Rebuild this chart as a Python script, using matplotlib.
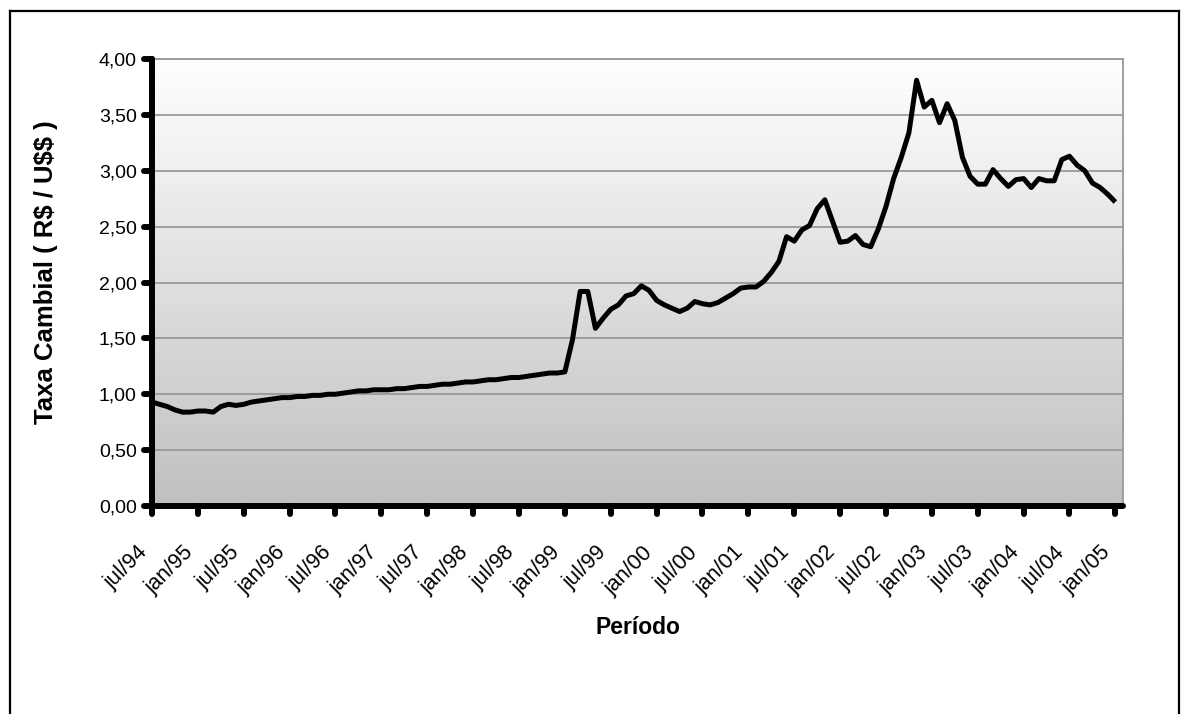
import numpy as np
import matplotlib
matplotlib.use("Agg")
import matplotlib.pyplot as plt
from matplotlib.colors import LinearSegmentedColormap
from matplotlib.lines import Line2D
from matplotlib.ticker import FuncFormatter

plt.rcParams['font.family'] = ['Liberation Sans', 'DejaVu Sans']

# Monthly exchange rate, jul/94 .. jan/05 (R$ per US$)
taxa = [
    0.93, 0.91, 0.89, 0.86, 0.84, 0.84, 0.85, 0.85, 0.84, 0.89, 0.91, 0.90,   # jul/94 - jun/95
    0.91, 0.93, 0.94, 0.95, 0.96, 0.97, 0.97, 0.98, 0.98, 0.99, 0.99, 1.00,   # jul/95 - jun/96
    1.00, 1.01, 1.02, 1.03, 1.03, 1.04, 1.04, 1.04, 1.05, 1.05, 1.06, 1.07,   # jul/96 - jun/97
    1.07, 1.08, 1.09, 1.09, 1.10, 1.11, 1.11, 1.12, 1.13, 1.13, 1.14, 1.15,   # jul/97 - jun/98
    1.15, 1.16, 1.17, 1.18, 1.19, 1.19, 1.20, 1.49, 1.92, 1.92, 1.59, 1.68,   # jul/98 - jun/99
    1.76, 1.80, 1.88, 1.90, 1.97, 1.93, 1.84, 1.80, 1.77, 1.74, 1.77, 1.83,   # jul/99 - jun/00
    1.81, 1.80, 1.82, 1.86, 1.90, 1.95, 1.96, 1.96, 2.01, 2.09, 2.19, 2.41,   # jul/00 - jun/01
    2.37, 2.47, 2.51, 2.66, 2.74, 2.55, 2.36, 2.37, 2.42, 2.34, 2.32, 2.48,   # jul/01 - jun/02
    2.68, 2.93, 3.12, 3.34, 3.81, 3.57, 3.63, 3.43, 3.60, 3.45, 3.12, 2.95,   # jul/02 - jun/03
    2.88, 2.88, 3.01, 2.93, 2.86, 2.92, 2.93, 2.85, 2.93, 2.91, 2.91, 3.10,   # jul/03 - jun/04
    3.13, 3.05, 3.00, 2.89, 2.85, 2.79, 2.72,                                 # jul/04 - jan/05
]

rotulos_x = ['jul/94', 'jan/95', 'jul/95', 'jan/96', 'jul/96', 'jan/97', 'jul/97',
             'jan/98', 'jul/98', 'jan/99', 'jul/99', 'jan/00', 'jul/00', 'jan/01',
             'jul/01', 'jan/02', 'jul/02', 'jan/03', 'jul/03', 'jan/04', 'jul/04',
             'jan/05']
valores_y = [0.0, 0.5, 1.0, 1.5, 2.0, 2.5, 3.0, 3.5, 4.0]

W, H = 1186, 714
fig = plt.figure(figsize=(W / 100, H / 100), dpi=100)
fig.patch.set_facecolor('white')

# outer frame (open at the bottom)
fx0, fx1, fy1 = 9.5 / W, 1178.5 / W, 1 - 11 / H
for xs, ys in [([fx0, fx0], [-0.1, fy1]), ([fx0, fx1], [fy1, fy1]), ([fx1, fx1], [fy1, -0.1])]:
    fig.add_artist(Line2D(xs, ys, transform=fig.transFigure, color='black', lw=1.6))

left, right, top, bottom = 152, 1123, 59, 506
ax = fig.add_axes([left / W, 1 - bottom / H, (right - left) / W, (bottom - top) / H])

n = len(taxa)
x = np.arange(n)
xmax = n  # one extra category slot at the right end
ax.set_xlim(0, xmax)
ax.set_ylim(0, 4)

# vertical grey gradient background
grad = np.linspace(0, 1, 256).reshape(-1, 1)
cmap = LinearSegmentedColormap.from_list('fundo', ['#c0c0c0', '#ffffff'])
ax.imshow(grad, extent=[0, xmax, 0, 4], origin='lower', aspect='auto', cmap=cmap,
          zorder=0, interpolation='bilinear')

for v in valores_y[1:]:
    ax.axhline(v, color='#999999', lw=1.3, zorder=1)

ax.plot(x, taxa, color='black', lw=3.6, solid_joinstyle='round', solid_capstyle='butt', zorder=3)

# spines
for s in ['left', 'bottom']:
    ax.spines[s].set_linewidth(4.3)
    ax.spines[s].set_color('black')
    ax.spines[s].set_capstyle('round')
    ax.spines[s].set_zorder(5)
for s in ['right', 'top']:
    ax.spines[s].set_linewidth(1.3)
    ax.spines[s].set_color('#999999')

# ticks drawn as short round-capped strokes
px_x = xmax / (right - left)
px_y = 4 / (bottom - top)
tl = 8
for v in valores_y:
    ax.plot([-tl * px_x, 0], [v, v], color='black', lw=4.3, solid_capstyle='round',
            clip_on=False, zorder=6)
posicoes_x = np.arange(0, 6 * len(rotulos_x), 6)
for p in posicoes_x:
    ax.plot([p, p], [-tl * px_y, 0], color='black', lw=4.3, solid_capstyle='round',
            clip_on=False, zorder=6)

ax.set_yticks(valores_y)
ax.yaxis.set_major_formatter(FuncFormatter(lambda v, _: f"{v:.2f}".replace('.', ',')))
ax.set_xticks(posicoes_x)
ax.set_xticklabels(rotulos_x, rotation=45, ha='right', va='top')
ax.tick_params(axis='both', length=0)
ax.tick_params(axis='y', pad=11, labelsize=14)
ax.tick_params(axis='x', pad=26, labelsize=15.5)

fig.text(46 / W, 1 - 272 / H, 'Taxa Cambial ( R$ / U$$ )', rotation=90, ha='center',
         va='center', fontsize=18.5, fontweight='bold')
fig.text(638 / W, 1 - 627 / H, 'Período', ha='center', va='center', fontsize=16.5,
         fontweight='bold')

fig.savefig('out.png', dpi=100)
